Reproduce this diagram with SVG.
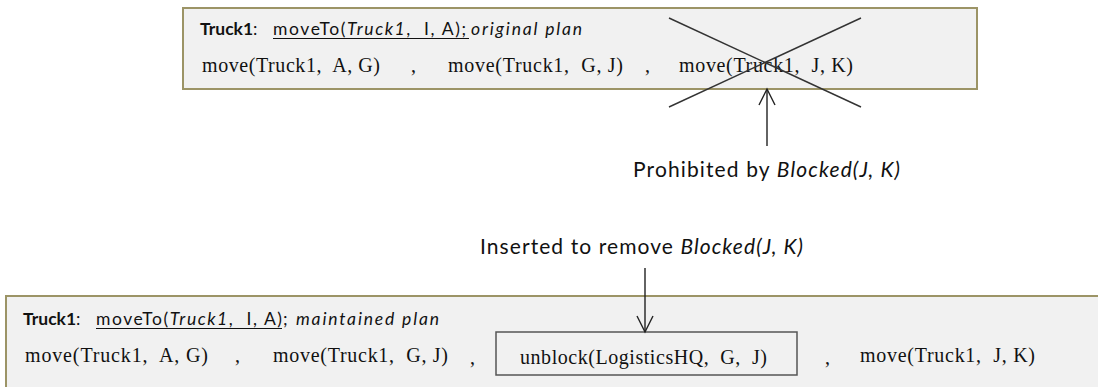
<svg xmlns="http://www.w3.org/2000/svg" width="1098" height="387" viewBox="0 0 1098 387">
  <defs>
    <style>
      .plan { fill: #f1f1f1; stroke: #9c9466; stroke-width: 2; }
      .head { font-family: Lato, "Open Sans", sans-serif; font-size: 17.5px; fill: #111; white-space: pre; }
      .tag { font-family: Lato, "Open Sans", sans-serif; font-size: 17.5px; fill: #111; font-weight: bold; }
      .act { font-family: "Liberation Serif", serif; font-size: 20px; fill: #111; white-space: pre; }
      .note { font-family: Lato, "Open Sans", sans-serif; font-size: 21px; fill: #111; white-space: pre; }
      .n { font-weight: normal; }
      .i { font-style: italic; }
      .ul { stroke: #111; stroke-width: 1.2; }
      .wire { stroke: #222; stroke-width: 1.4; fill: none; }
      .cross { stroke: #333; stroke-width: 1.4; }
    </style>
    <marker id="open" viewBox="0 0 20 20" refX="18" refY="10" markerWidth="20" markerHeight="20" markerUnits="userSpaceOnUse" orient="auto">
      <path d="M2,2 L18,10 L2,18" fill="none" stroke="#222" stroke-width="1.4"/>
    </marker>
  </defs>
  <rect width="1098" height="387" fill="#ffffff"/>

  <!-- original plan -->
  <g id="original-plan">
    <rect class="plan" x="183" y="8" width="794" height="81"/>
    <text class="tag" x="200" y="35">Truck1<tspan class="n">:</tspan></text>
    <text class="head" x="273" y="35" textLength="193" lengthAdjust="spacing">moveTo(<tspan class="i">Truck1</tspan>,  I, A);</text>
    <line class="ul" x1="273" y1="38.5" x2="469" y2="38.5"/>
    <text class="head i" x="471" y="35" textLength="111" lengthAdjust="spacing">original plan</text>
    <text class="act" x="202" y="72" textLength="178" lengthAdjust="spacing">move(Truck1,  A, G)</text>
    <text class="act" x="411" y="72">,</text>
    <text class="act" x="448" y="72" textLength="175" lengthAdjust="spacing">move(Truck1,  G, J)</text>
    <text class="act" x="645" y="72">,</text>
    <text class="act" x="679" y="72" textLength="174" lengthAdjust="spacing">move(Truck1,  J, K)</text>
    <line class="cross" x1="669" y1="18" x2="861" y2="107"/>
    <line class="cross" x1="669" y1="107" x2="861" y2="18"/>
  </g>

  <!-- maintained plan -->
  <g id="maintained-plan">
    <rect class="plan" x="6" y="296" width="1100" height="100"/>
    <text class="tag" x="23" y="325">Truck1<tspan class="n">:</tspan></text>
    <text class="head" x="96" y="325" textLength="186" lengthAdjust="spacing">moveTo(<tspan class="i">Truck1</tspan>,  I, A)</text>
    <line class="ul" x1="96" y1="328.5" x2="282" y2="328.5"/>
    <text class="head" x="283" y="325">;</text>
    <text class="head i" x="296" y="325" textLength="143" lengthAdjust="spacing">maintained plan</text>
    <text class="act" x="25" y="362" textLength="183" lengthAdjust="spacing">move(Truck1,  A, G)</text>
    <text class="act" x="235" y="362">,</text>
    <text class="act" x="273" y="362" textLength="175" lengthAdjust="spacing">move(Truck1,  G, J)</text>
    <text class="act" x="470" y="364">,</text>
    <text class="act" x="825" y="364">,</text>
    <text class="act" x="860" y="362" textLength="175" lengthAdjust="spacing">move(Truck1,  J, K)</text>
  </g>

  <g id="unblock-step">
    <rect x="496" y="332" width="301" height="43" fill="none" stroke="#555" stroke-width="1.5"/>
    <text class="act" x="520" y="364" textLength="247" lengthAdjust="spacing">unblock(LogisticsHQ,  G,  J)</text>
  </g>

  <g id="prohibited-note">
    <text class="note" x="633" y="177" textLength="267" lengthAdjust="spacing">Prohibited by <tspan class="i">Blocked(J, K)</tspan></text>
  </g>

  <g id="inserted-note">
    <text class="note" x="480" y="254" textLength="323" lengthAdjust="spacing">Inserted to remove <tspan class="i">Blocked(J, K)</tspan></text>
  </g>

  <g id="connectors">
    <line class="wire" x1="767" y1="146" x2="767" y2="89" marker-end="url(#open)"/>
    <line class="wire" x1="645" y1="268" x2="645" y2="332" marker-end="url(#open)"/>
  </g>
</svg>
